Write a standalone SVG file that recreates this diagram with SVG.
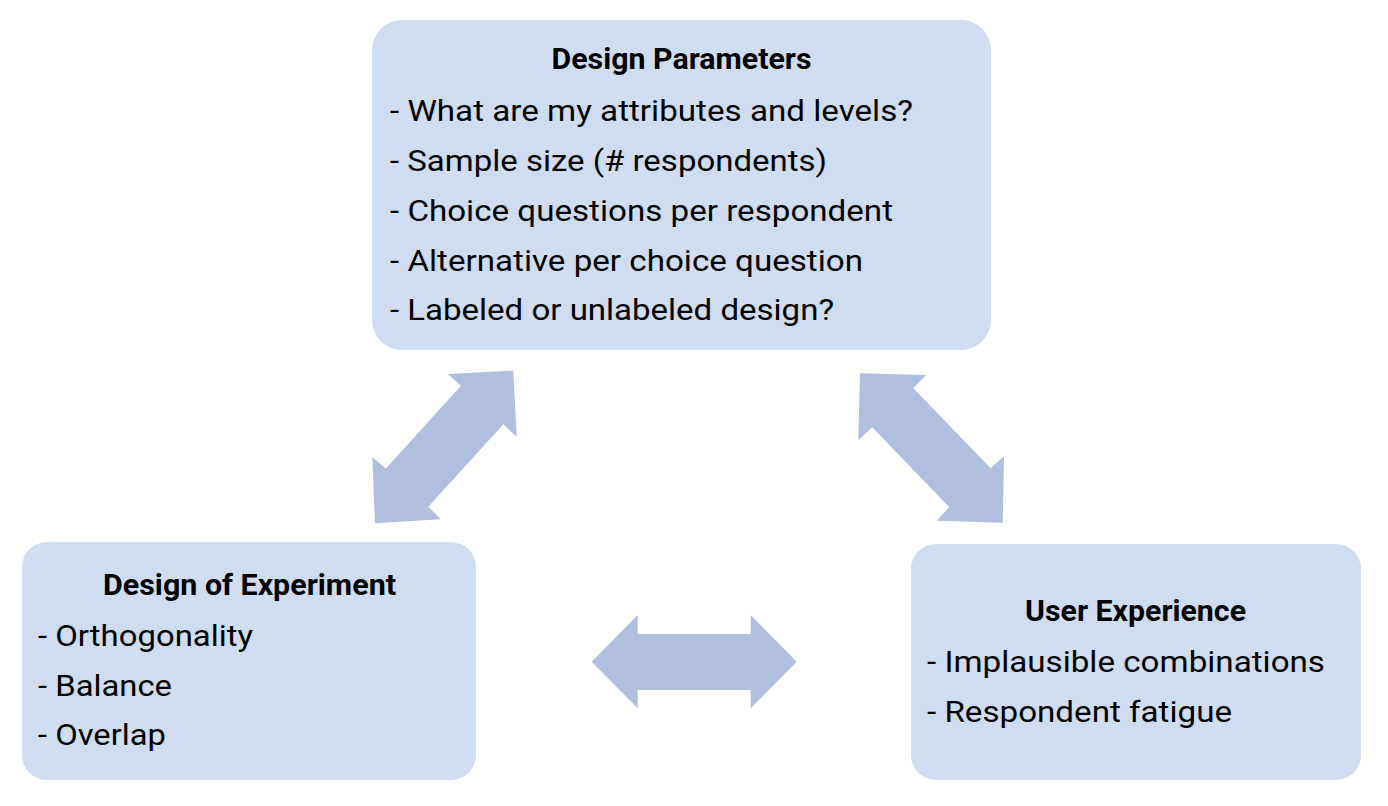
<svg xmlns="http://www.w3.org/2000/svg" width="1388" height="806" viewBox="0 0 1388 806">
<style>
.box{fill:#D0DDF0;}
.arrow{fill:#B0BEDF;}
.title{font-family:Roboto,"Liberation Sans",sans-serif;font-weight:700;font-size:29px;fill:#000;text-anchor:middle;}
.body{font-family:Roboto,"Liberation Sans",sans-serif;font-weight:400;font-size:30px;fill:#000;}
</style>
<rect width="1388" height="806" fill="#fff"/>
<g id="connectors">
<polygon class="arrow" points="447.7,374 513.3,370.7 516.7,436.7 503.3,424.3 428.3,506.7 441,519.3 375,523.3 372.3,457.3 385.7,468.7 461,385.7"/>
<polygon class="arrow" points="860,373.3 926,375 913.3,388.3 990.7,468.3 1004,456 1002.7,522.7 936.7,520.7 949.3,507.3 872.3,427.3 858.3,440"/>
<polygon class="arrow" points="591.7,661.7 637.7,615 637.7,634 750.7,634 750.7,615 796.7,661.7 750.7,708.3 750.7,690 637.7,690 637.7,708.3"/>
</g>
<g id="design-parameters">
<rect class="box" x="372" y="20" width="619" height="330" rx="30"/>
<text class="title" x="681.5" y="69" textLength="260" lengthAdjust="spacingAndGlyphs">Design Parameters</text>
<text class="body" x="390" y="121" textLength="523" lengthAdjust="spacingAndGlyphs">- What are my attributes and levels?</text>
<text class="body" x="390" y="171" textLength="437" lengthAdjust="spacingAndGlyphs">- Sample size (# respondents)</text>
<text class="body" x="390" y="221" textLength="503" lengthAdjust="spacingAndGlyphs">- Choice questions per respondent</text>
<text class="body" x="390" y="271" textLength="473" lengthAdjust="spacingAndGlyphs">- Alternative per choice question</text>
<text class="body" x="390" y="320" textLength="444" lengthAdjust="spacingAndGlyphs">- Labeled or unlabeled design?</text>
</g>
<g id="design-of-experiment">
<rect class="box" x="22" y="542" width="454" height="238" rx="25"/>
<text class="title" x="249.5" y="595" textLength="293" lengthAdjust="spacingAndGlyphs">Design of Experiment</text>
<text class="body" x="38" y="646" textLength="215" lengthAdjust="spacingAndGlyphs">- Orthogonality</text>
<text class="body" x="38" y="696" textLength="134" lengthAdjust="spacingAndGlyphs">- Balance</text>
<text class="body" x="38" y="745" textLength="128" lengthAdjust="spacingAndGlyphs">- Overlap</text>
</g>
<g id="user-experience">
<rect class="box" x="911" y="544" width="450" height="236" rx="25"/>
<text class="title" x="1135.5" y="621" textLength="221" lengthAdjust="spacingAndGlyphs">User Experience</text>
<text class="body" x="927" y="672" textLength="398" lengthAdjust="spacingAndGlyphs">- Implausible combinations</text>
<text class="body" x="927" y="722" textLength="305" lengthAdjust="spacingAndGlyphs">- Respondent fatigue</text>
</g>
</svg>
